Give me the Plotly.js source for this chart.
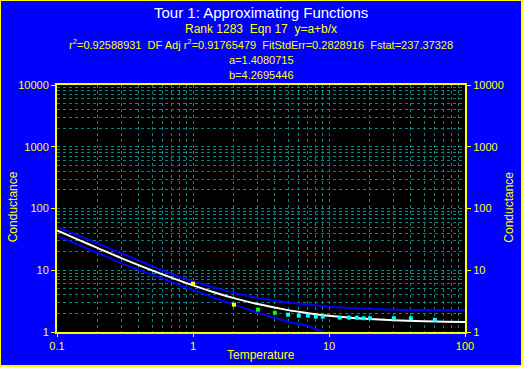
<!DOCTYPE html>
<html>
<head>
<meta charset="utf-8">
<script src="https://cdn.plot.ly/plotly-3.0.1.min.js"></script>
<style>
html,body{margin:0;padding:0;background:#0000ff;}
#wrap{position:relative;width:523px;height:367px;}
#chart{width:523px;height:367px;}
#frame{position:absolute;left:0;top:0;width:523px;height:367px;box-sizing:border-box;
  border-left:1px solid #ffff00;border-top:1px solid #ffff00;border-right:2px solid #ffff00;border-bottom:2px solid #ffff00;pointer-events:none;}
</style>
</head>
<body>
<div id="wrap"><div id="chart"></div><div id="frame"></div></div>
<script>
// Measured data points (Temperature, Conductance)
var pointX = [1, 2, 3, 4, 5, 6, 7, 8, 9, 12, 14, 16, 18, 20, 30, 40, 60];
var pointY = [6.06, 2.77, 2.30, 2.05, 1.91, 1.84, 1.84, 1.77, 1.77, 1.71, 1.71, 1.71, 1.67, 1.67, 1.67, 1.67, 1.58];
var pointColors = ['#ffff00', '#ffff00', '#00ff00', '#00ff00', '#00ffff', '#00ffff', '#00ffff', '#00ffff', '#00ffff',
                   '#00ffff', '#00ffff', '#00ffff', '#00ffff', '#00ffff', '#00ffff', '#00ffff', '#00ffff'];

// Fitted curve and prediction bands
var curveX = [0.1, 0.15, 0.2, 0.3, 0.5, 0.7, 1, 1.5, 2, 3, 5, 7, 10, 15, 20, 30, 50, 70, 100];
var fitY   = [44.1, 29.9, 22.8, 15.6, 9.95, 7.51, 5.68, 4.25, 3.54, 2.83, 2.26, 2.02, 1.83, 1.69, 1.62, 1.55, 1.49, 1.47, 1.45];
var upperY = [51, 35, 27, 18.5, 11.5, 8.6, 6.6, 5.05, 4.3, 3.55, 3.0, 2.75, 2.57, 2.42, 2.35, 2.3, 2.27, 2.26, 2.25];
var lowerY = [36, 25, 19, 12.8, 8.4, 6.4, 4.8, 3.45, 2.78, 2.05, 1.47, 1.26, 0.93, 0.8, 0.73, 0.67, 0.6, 0.57, 0.55];

// Axis ticks
var xTickVals = [0.1, 1, 10, 100];
var xTickText = ['0.1', '1', '10', '100'];
var yTickVals = [1, 10, 100, 1000, 10000];
var yTickText = ['1', '10', '100', '1000', '10000'];

// Title lines
var titleMain = 'Tour 1: Approximating Functions';
var titleLines = [
  'Rank 1283  Eqn 17  y=a+b/x',
  'r<sup>2</sup>=0.92588931  DF Adj r<sup>2</sup>=0.91765479  FitStdErr=0.2828916  Fstat=237.37328',
  'a=1.4080715',
  'b=4.2695446'
];

function minorVals(tv) {
  var out = [];
  for (var i = 0; i < tv.length - 1; i++) {
    for (var k = 2; k <= 9; k++) out.push(tv[i] * k);
  }
  return out;
}

var gridColor = '#008888';
var yel = '#ffff00';
var FONT = 'Liberation Sans, Arial, sans-serif';

var traces = [
  {x: curveX, y: upperY, mode: 'lines', line: {color: '#0000ff', width: 2}, hoverinfo: 'skip'},
  {x: curveX, y: lowerY, mode: 'lines', line: {color: '#0000ff', width: 2}, hoverinfo: 'skip'},
  {x: curveX, y: fitY, mode: 'lines', line: {color: '#ffffff', width: 2, shape: 'spline'}, hoverinfo: 'skip'},
  {x: pointX, y: pointY, mode: 'markers', yaxis: 'y2',
   marker: {symbol: 'square', size: 4, color: pointColors, line: {width: 0}}, hoverinfo: 'skip'}
];

var axisCommon = {
  type: 'log',
  showline: true, linecolor: yel, linewidth: 2,
  ticks: 'outside', ticklen: 4, tickcolor: yel, tickwidth: 1,
  tickfont: {family: FONT, size: 11, color: yel},
  tickmode: 'array',
  zeroline: false
};

var layout = {
  width: 523, height: 367,
  margin: {l: 57, r: 58, t: 85, b: 35, pad: 0},
  paper_bgcolor: '#0000ff',
  plot_bgcolor: '#000000',
  showlegend: false,
  xaxis: Object.assign({}, axisCommon, {
    range: [-1, 2],
    tickvals: xTickVals, ticktext: xTickText,
    ticklen: 3,
    mirror: true,
    showgrid: true, gridcolor: gridColor, griddash: 'dot', gridwidth: 1,
    minor: {tickmode: 'array', tickvals: minorVals(xTickVals), showgrid: true, gridcolor: gridColor, griddash: 'dot', gridwidth: 1, ticks: ''}
  }),
  yaxis: Object.assign({}, axisCommon, {
    range: [0, 4],
    tickvals: yTickVals, ticktext: yTickText,
    showgrid: true, gridcolor: gridColor, griddash: 'dot', gridwidth: 1,
    minor: {tickmode: 'array', tickvals: minorVals(yTickVals), showgrid: true, gridcolor: gridColor, griddash: 'dot', gridwidth: 1, ticks: ''}
  }),
  yaxis2: Object.assign({}, axisCommon, {
    range: [0, 4],
    overlaying: 'y', side: 'right',
    tickvals: yTickVals, ticktext: yTickText,
    showgrid: false
  }),
  annotations: [
    {text: titleMain, xref: 'paper', yref: 'paper', x: 0.5, y: (332 - 13) / 247, xanchor: 'center', yanchor: 'middle',
     showarrow: false, font: {family: FONT, size: 15, color: '#ffffff'}},
    {text: titleLines[0], xref: 'paper', yref: 'paper', x: 0.5, y: (332 - 29.3) / 247, xanchor: 'center', yanchor: 'middle',
     showarrow: false, font: {family: FONT, size: 12, color: yel}},
    {text: titleLines[1], xref: 'paper', yref: 'paper', x: 0.5, y: (332 - 44.5) / 247, xanchor: 'center', yanchor: 'middle',
     showarrow: false, font: {family: FONT, size: 11, color: yel}},
    {text: titleLines[2], xref: 'paper', yref: 'paper', x: 0.5, y: (332 - 60) / 247, xanchor: 'center', yanchor: 'middle',
     showarrow: false, font: {family: FONT, size: 11, color: yel}},
    {text: titleLines[3], xref: 'paper', yref: 'paper', x: 0.5, y: (332 - 74.7) / 247, xanchor: 'center', yanchor: 'middle',
     showarrow: false, font: {family: FONT, size: 11, color: yel}},
    {text: 'Temperature', xref: 'paper', yref: 'paper', x: (260.5 - 57) / 408, y: (332 - 355) / 247, xanchor: 'center', yanchor: 'middle',
     showarrow: false, font: {family: FONT, size: 12, color: yel}},
    {text: 'Conductance', xref: 'paper', yref: 'paper', x: (13.3 - 57) / 408, y: (332 - 207) / 247, xanchor: 'center', yanchor: 'middle',
     textangle: -90, showarrow: false, font: {family: FONT, size: 12, color: yel}},
    {text: 'Conductance', xref: 'paper', yref: 'paper', x: (508.7 - 57) / 408, y: (332 - 207) / 247, xanchor: 'center', yanchor: 'middle',
     textangle: -90, showarrow: false, font: {family: FONT, size: 12, color: yel}}
  ]
};

Plotly.newPlot('chart', traces, layout, {displayModeBar: false, staticPlot: true});
</script>
</body>
</html>
